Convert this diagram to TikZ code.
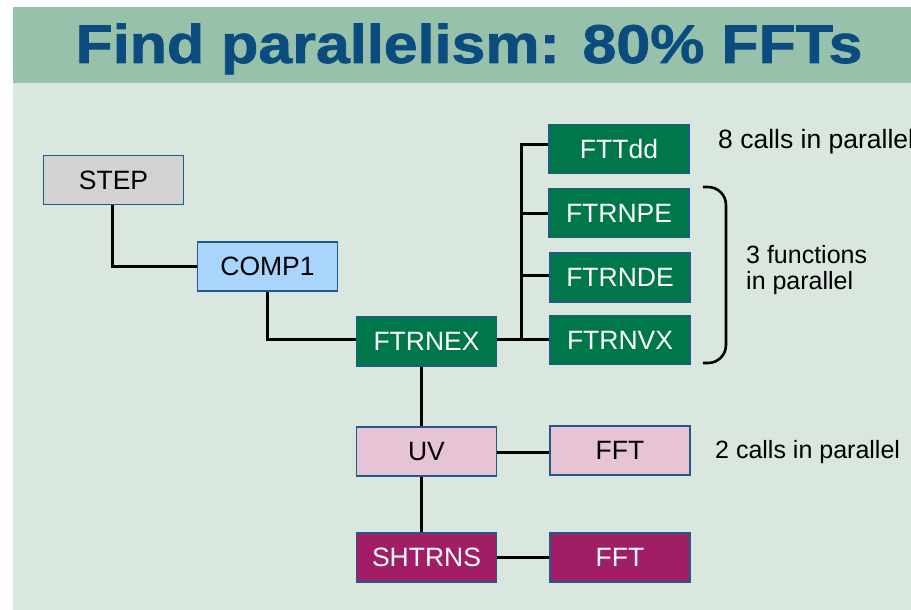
\documentclass[tikz,border=0pt]{standalone}
\usepackage{fontspec}
\setmainfont{Liberation Sans}
\newfontfamily\heavyfont{Liberation Sans}[BoldFeatures={FakeBold=1.2}]
\definecolor{band}{HTML}{97C1AB}
\definecolor{panel}{HTML}{DAE7DF}
\definecolor{titleblue}{HTML}{0B4C7E}
\definecolor{boxedge}{HTML}{1F5A8A}
\definecolor{fftgreen}{HTML}{00774B}
\definecolor{stepgray}{HTML}{D3D3D3}
\definecolor{compblue}{HTML}{A9D5FC}
\definecolor{uvpink}{HTML}{E6C3D5}
\definecolor{shpurple}{HTML}{A11E66}
\tikzset{
  x=1pt, y=-1pt,
  routine/.style={draw=boxedge, line width=1.8pt, minimum width=140pt, minimum height=49pt,
    inner sep=0pt, font=\fontsize{26.5}{30}\selectfont},
  greenbox/.style={routine, fill=fftgreen, text=white},
  purplebox/.style={routine, fill=shpurple, text=white},
  link/.style={draw=black, line width=3pt},
  note/.style={font=\fontsize{25}{26}\selectfont, inner sep=0pt, align=left}
}
\begin{document}
\begin{tikzpicture}
\useasboundingbox (0,0) rectangle (911,610);
\clip (0,0) rectangle (911,610);
% slide background and title band
\fill[white] (0,0) rectangle (911,610);
\fill[panel] (13,83) rectangle (911,610);
\fill[band] (13,7) rectangle (911,83);
\node[anchor=base, inner sep=0pt, text=titleblue] (title) at (469,63)
  {\scalebox{1.15}[1.03]{\heavyfont\bfseries\fontsize{53}{60}\selectfont Find parallelism: 80\% FFTs}};

% call tree
\node[routine, fill=stepgray] (step) at (113.5,180) {STEP};
\node[routine, fill=compblue] (comp) at (267.5,266.5) {COMP1};
\node[greenbox] (ftrnex) at (426.5,341.5) {FTRNEX};
\node[greenbox] (fttdd) at (619,149) {FTTdd};
\node[greenbox] (ftrnpe) at (619,213) {FTRNPE};
\node[greenbox] (ftrnde) at (620,277.5) {FTRNDE};
\node[greenbox] (ftrnvx) at (620,340) {FTRNVX};
\node[routine, fill=uvpink] (uv) at (426.5,451.5) {UV};
\node[routine, fill=uvpink] (fftuv) at (620,450.5) {FFT};
\node[purplebox] (shtrns) at (426.5,557.5) {SHTRNS};
\node[purplebox] (fftsh) at (620,557.5) {FFT};

% connectors
\coordinate (stepfoot) at ([xshift=-1.5pt]step.south);
\coordinate (compfoot) at (comp.south);
\coordinate (bus) at (521,339);
\coordinate (bustop) at (521,144);
\coordinate (trunk) at (421,0);
\draw[link] (stepfoot) |- (comp.west);
\draw[link] (compfoot) |- (ftrnex.west |- bus);
\draw[link] (ftrnex.east |- bus) -- (ftrnvx.west |- bus);
\draw[link] (bus) -- (bustop) -- (fttdd.west |- bustop);
\draw[link] (bus |- ftrnpe.west) -- (ftrnpe.west);
\draw[link] ([yshift=2pt]bus |- ftrnde.west) -- ([yshift=2pt]ftrnde.west);
\draw[link] (trunk |- ftrnex.south) -- (trunk |- uv.north);
\draw[link] (trunk |- uv.south) -- (trunk |- shtrns.north);
\draw[link] ([yshift=-1pt]uv.east) -- ([yshift=-1pt]uv.east -| fftuv.west);
\draw[link] (shtrns.east) -- (fftsh.west);

% bracket over the three functions
\draw[line width=2.6pt, rounded corners=18pt] (703,187) -- (726,187) -- (726,363) -- (703,363);

% notes
\node[note, font=\fontsize{26.5}{26}\selectfont, anchor=west] (n8) at (718,142) {8 calls in parallel};
\node[note, anchor=west] (n3) at (746,270) {3 functions\\in parallel};
\node[note, anchor=west] (n2) at (715,452) {2 calls in parallel};
\end{tikzpicture}
\end{document}
